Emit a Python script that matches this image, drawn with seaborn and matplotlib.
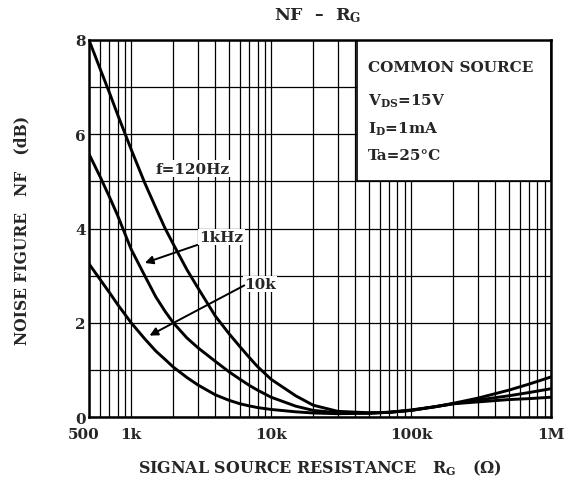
import matplotlib
matplotlib.use("Agg")
import matplotlib.pyplot as plt
import matplotlib.transforms as mtransforms
import seaborn as sns
import pandas as pd
from matplotlib.patches import Rectangle

# ---- data ----
rg = [500, 600, 700, 800, 1000, 1250, 1500, 1750, 2000, 2500, 3000, 4000,
      5000, 6000, 7000, 8000, 10000, 15000, 20000, 30000, 50000, 70000,
      100000, 150000, 200000, 300000, 500000, 700000, 1000000]
nf_120 = [8.0, 7.39, 6.88, 6.42, 5.68, 4.97, 4.44, 4.0, 3.67, 3.13, 2.74, 2.14,
          1.77, 1.49, 1.26, 1.07, 0.8, 0.45, 0.25, 0.12, 0.09, 0.1,
          0.15, 0.22, 0.28, 0.32, 0.37, 0.39, 0.42]
nf_1k = [5.58, 5.1, 4.67, 4.28, 3.56, 3.0, 2.55, 2.24, 2.0, 1.68, 1.47, 1.18,
         0.96, 0.8, 0.67, 0.57, 0.42, 0.23, 0.14, 0.09, 0.08, 0.1,
         0.14, 0.22, 0.28, 0.36, 0.45, 0.52, 0.6]
nf_10k = [3.25, 2.92, 2.64, 2.39, 2.0, 1.66, 1.40, 1.22, 1.06, 0.84, 0.68, 0.47,
          0.355, 0.28, 0.235, 0.2, 0.16, 0.11, 0.085, 0.07, 0.08, 0.1,
          0.14, 0.22, 0.29, 0.4, 0.57, 0.7, 0.85]
series_names = ["f=120Hz", "1kHz", "10k"]

xtick_vals = [500, 1000, 10000, 100000, 1000000]
xtick_labels = ["500", "1k", "10k", "100k", "1M"]
ytick_vals = [0, 2, 4, 6, 8]

df = pd.DataFrame({
    "rg": rg * 3,
    "nf": nf_120 + nf_1k + nf_10k,
    "f": sum([[n] * len(rg) for n in series_names], []),
})

sns.set_style("white")
plt.rcParams["font.family"] = ["DejaVu Serif"]
plt.rcParams["font.weight"] = "bold"
plt.rcParams["mathtext.fontset"] = "custom"
plt.rcParams["mathtext.rm"] = "DejaVu Serif:bold"
plt.rcParams["mathtext.it"] = "DejaVu Serif:bold"
plt.rcParams["mathtext.bf"] = "DejaVu Serif:bold"

fig = plt.figure(figsize=(5.67, 4.85), dpi=100)
ax = fig.add_axes([89 / 567, 1 - 418 / 485, (551 - 89) / 567, (418 - 41) / 485])

ax.set_xscale("log")
ax.set_xlim(500, 1e6)
ax.set_ylim(0, 8)

minor = []
for dec in [100, 1000, 10000, 100000]:
    for m in range(1, 10):
        v = m * dec
        if 500 < v < 1e6:
            minor.append(v)
ax.set_xticks(minor, minor=True)
ax.set_xticks(xtick_vals)
ax.set_xticklabels(xtick_labels, fontsize=11, fontweight="bold")
ax.set_yticks(range(0, 9), minor=False)
ax.set_yticklabels([str(v) if v in ytick_vals else "" for v in range(0, 9)],
                   fontsize=11, fontweight="bold")
ax.tick_params(axis="x", which="both", length=0, pad=7)
ax.tick_params(axis="y", which="both", length=0, pad=2.5)
ax.grid(True, which="both", color="black", linewidth=0.9, zorder=1)
ax.set_axisbelow(True)
# the "500" label sits a little left of its tick in the reference
lbl0 = ax.get_xticklabels()[0]
lbl0.set_transform(lbl0.get_transform() +
                   mtransforms.ScaledTranslation(-5 / 100, 0, fig.dpi_scale_trans))

sns.lineplot(data=df, x="rg", y="nf", hue="f", ax=ax, legend=False,
             palette=["black"] * 3, linewidth=2.1, zorder=3)
ax.set_xlabel("")
ax.set_ylabel("")

for sp in ax.spines.values():
    sp.set_linewidth(1.8)
    sp.set_color("black")
    sp.set_zorder(6)

# conditions box
ax.add_patch(Rectangle((41000, 5), 1e6 - 41000, 3, facecolor="white",
                       edgecolor="black", linewidth=1.2, zorder=2))
box_lines = ["COMMON SOURCE", r"V$_{\mathrm{DS}}$=15V", r"I$_{\mathrm{D}}$=1mA", "Ta=25°C"]
box_y = [7.42, 6.72, 6.12, 5.55]
for t, yv in zip(box_lines, box_y):
    ax.text(49000, yv, t, fontsize=11, fontweight="bold", va="center",
            ha="left", zorder=5)

bb = dict(facecolor="white", edgecolor="none", pad=1.0)
ax.text(2770, 5.27, "f=120Hz", fontsize=11, fontweight="bold", ha="center",
        va="center", bbox=bb, zorder=4)
ax.text(4400, 3.82, "1kHz", fontsize=11, fontweight="bold", ha="center",
        va="center", bbox=bb, zorder=4)
ax.text(8300, 2.82, "10k", fontsize=11, fontweight="bold", ha="center",
        va="center", bbox=bb, zorder=4)
ap = dict(arrowstyle="-|>", color="black", lw=1.4, mutation_scale=12)
ax.annotate("", xy=(1200, 3.25), xytext=(3100, 3.67), arrowprops=ap, zorder=4)
ax.annotate("", xy=(1300, 1.70), xytext=(6700, 2.82), arrowprops=ap, zorder=4)

fig.text(318 / 567, 1 - 16 / 485, r"NF  –  R$_{\mathrm{G}}$", fontsize=12.5,
         fontweight="bold", ha="center", va="center")
fig.text(320 / 567, 1 - 468 / 485,
         r"SIGNAL SOURCE RESISTANCE   R$_{\mathrm{G}}$   ($\Omega$)",
         fontsize=11.4, fontweight="bold", ha="center", va="center")
fig.text(22 / 567, 1 - 230 / 485, "NOISE FIGURE   NF   (dB)", fontsize=11.2,
         fontweight="bold", ha="center", va="center", rotation=90)

fig.savefig("out.png", dpi=100, facecolor="white")
